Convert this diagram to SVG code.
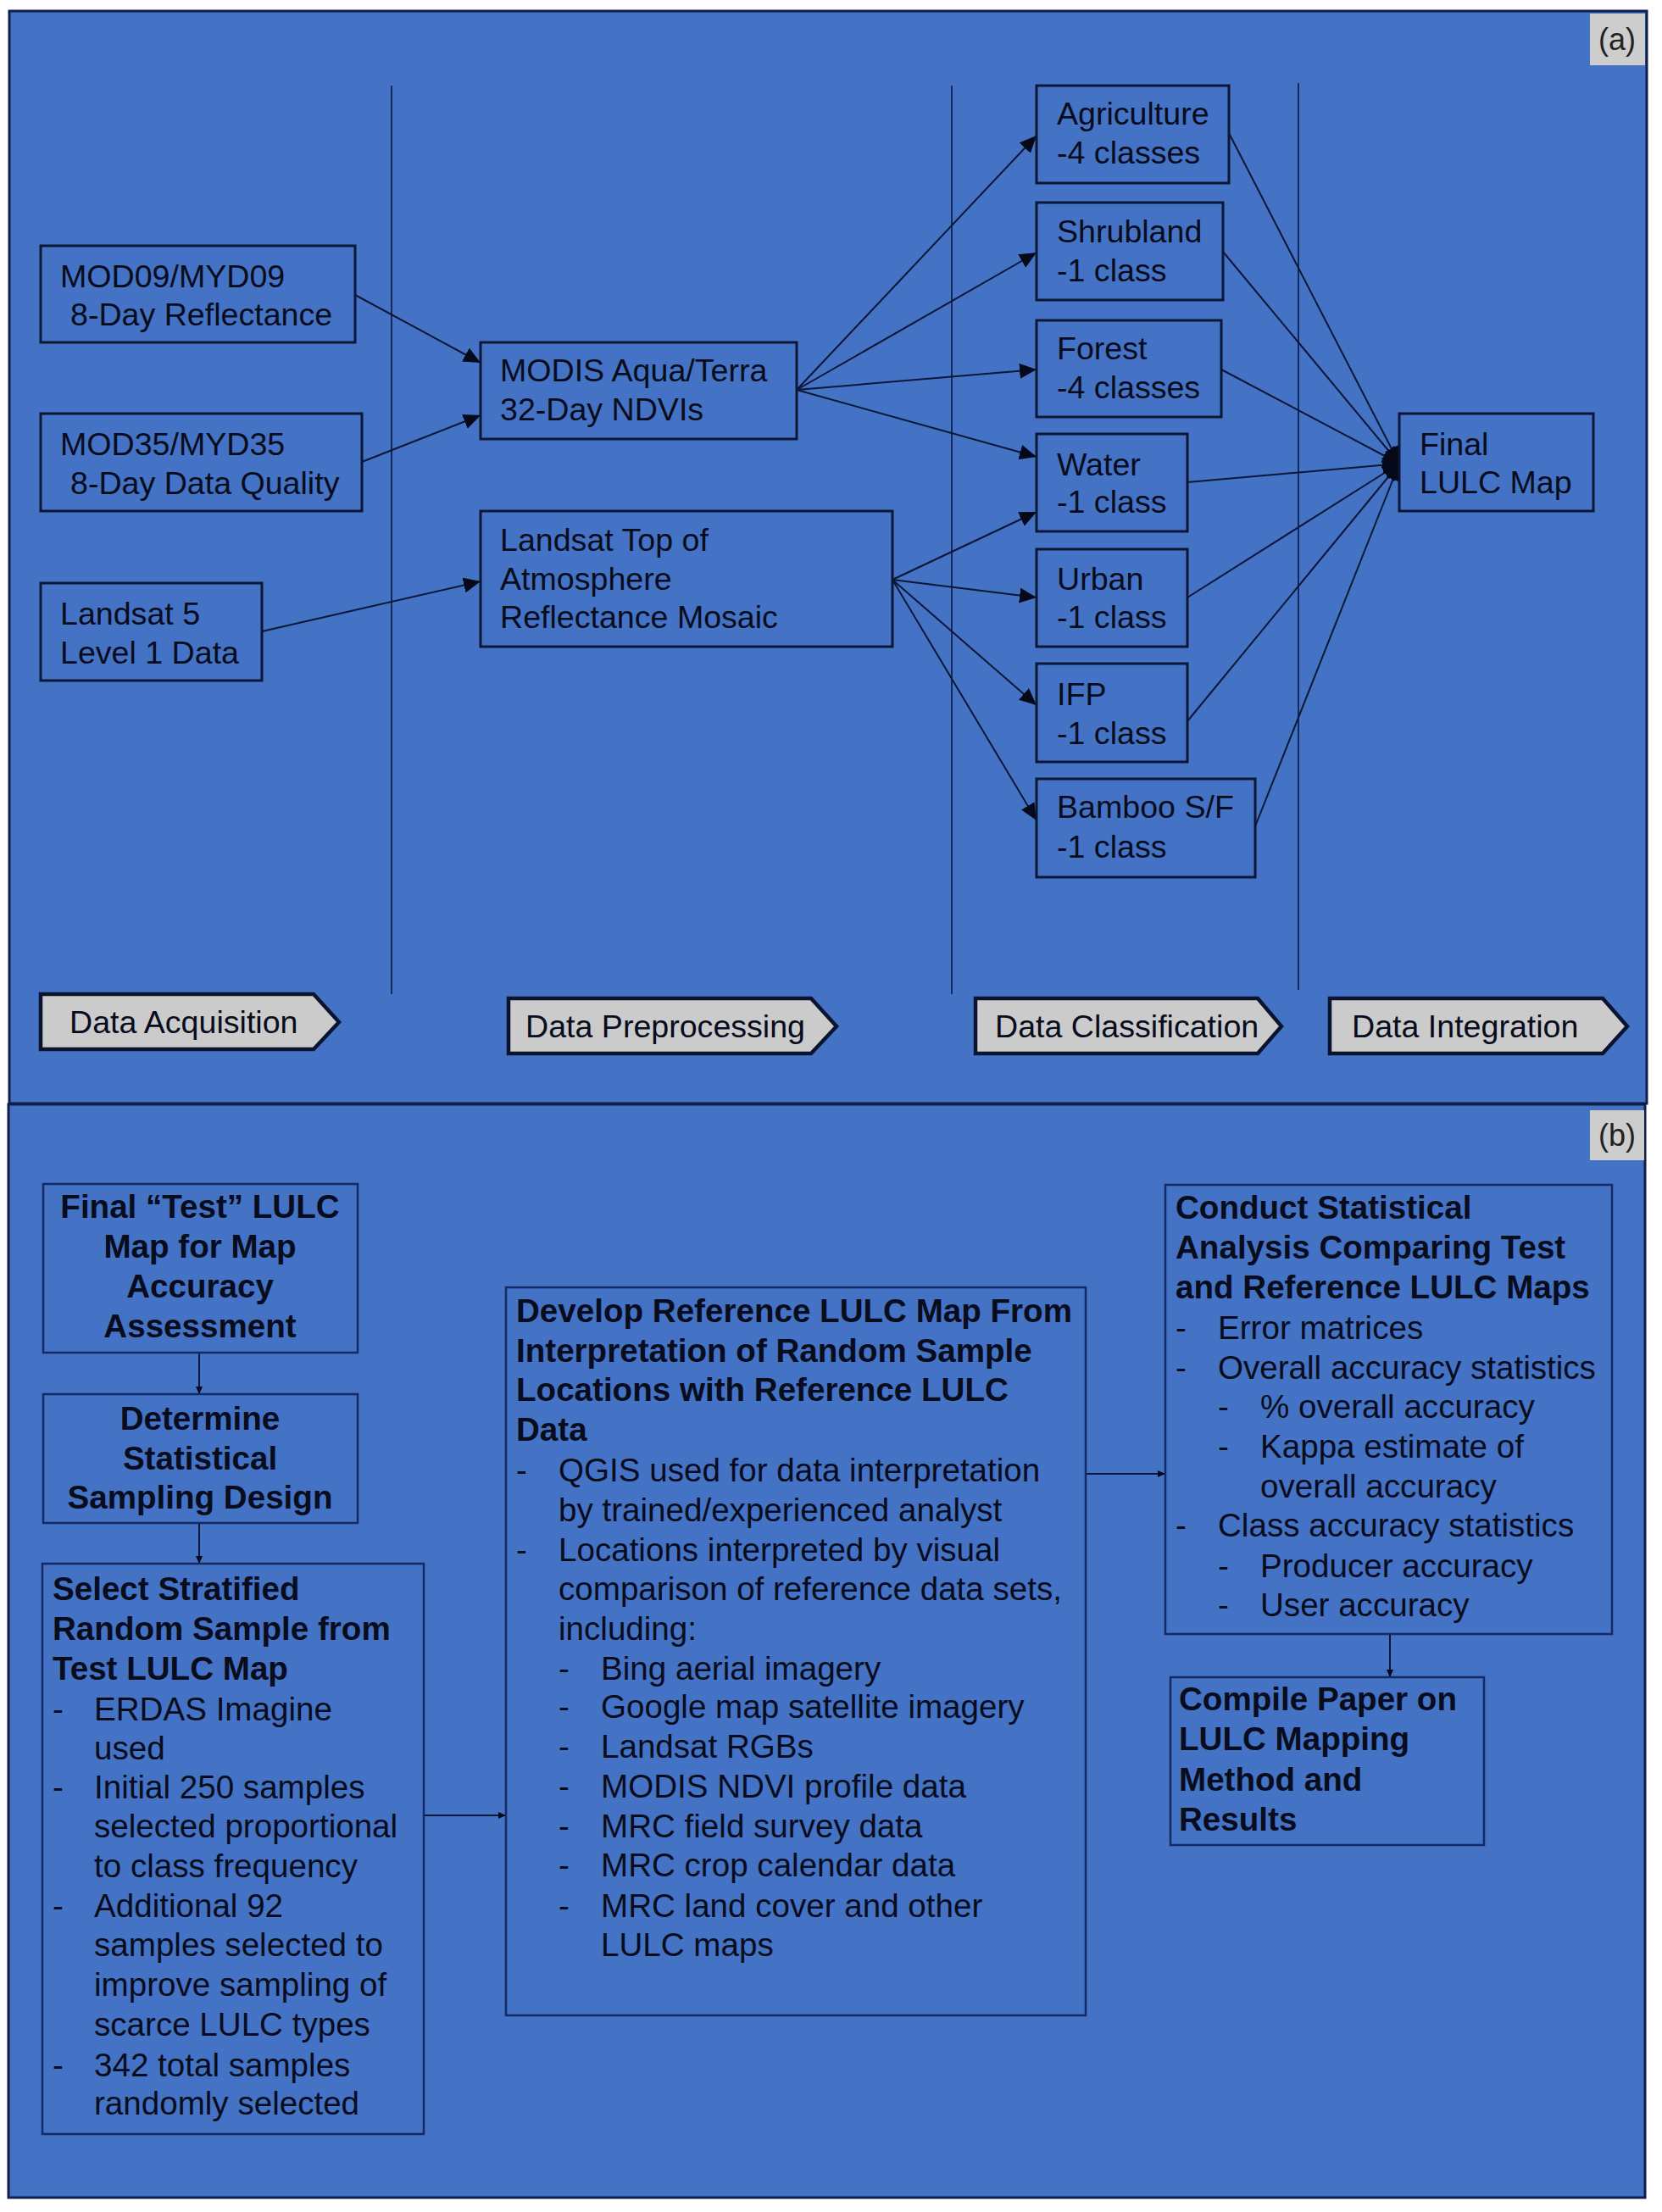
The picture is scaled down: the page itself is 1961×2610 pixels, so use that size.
<svg xmlns="http://www.w3.org/2000/svg" width="1961" height="2610" viewBox="0 0 1961 2610">
<style>
.panel{fill:#4472C4;stroke:#0f1f4a;stroke-width:3}
.boxa{fill:none;stroke:#0c1736;stroke-width:3}
.boxb{fill:none;stroke:#142a66;stroke-width:2.5}
.ta{font-family:"Liberation Sans",Arial,sans-serif;font-size:37.6px;fill:#080c1c}
.tb{font-family:"Liberation Sans",Arial,sans-serif;font-size:38.6px;fill:#080c1c}
.bold{font-weight:bold}
.mid{text-anchor:middle}
.div{stroke:#15285a;stroke-width:2;fill:none}
.conA{stroke:#0c1736;stroke-width:2;fill:none;marker-end:url(#arrA)}
.conB{stroke:#0c1736;stroke-width:2;fill:none;marker-end:url(#arrB)}
.chev{fill:#cbcbcb;stroke:#0a1430;stroke-width:4.5;stroke-linejoin:miter}
.lab{fill:#cdcdcd;stroke:none}
.labt{font-family:"Liberation Sans",Arial,sans-serif;font-size:36px;fill:#222;text-anchor:middle}
</style>
<defs>
<marker id="arrA" markerUnits="userSpaceOnUse" markerWidth="22" markerHeight="20" refX="20" refY="9" orient="auto">
<path d="M0,0 L20,9 L0,18 Z" fill="#05091a"/>
</marker>
<marker id="arrB" markerUnits="userSpaceOnUse" markerWidth="10" markerHeight="8" refX="9" refY="4" orient="auto">
<path d="M0,0 L9,4 L0,8 Z" fill="#05091a"/>
</marker>
</defs>
<rect x="0" y="0" width="1961" height="2610" fill="#ffffff"/>
<g id="panel-a">
<rect class="panel" x="11" y="13" width="1932" height="1289"/>
<rect class="lab" x="1876" y="16" width="65" height="61"/>
<text class="labt" x="1908" y="59">(a)</text>
</g>
<g id="panel-b">
<rect class="panel" x="10" y="1303" width="1931" height="1290"/>
<rect class="lab" x="1876" y="1310" width="64" height="59"/>
<text class="labt" x="1908" y="1352">(b)</text>
</g>
<g id="dividers">
<line class="div" x1="462" y1="101" x2="462" y2="1173"/>
<line class="div" x1="1123" y1="101" x2="1123" y2="1173"/>
<line class="div" x1="1532" y1="98" x2="1532" y2="1168"/>
</g>
<g id="connectors">
<line class="conA" x1="419" y1="348" x2="567" y2="428"/>
<line class="conA" x1="427" y1="545" x2="567" y2="490"/>
<line class="conA" x1="309" y1="745" x2="567" y2="686"/>
<line class="conA" x1="940" y1="460" x2="1223" y2="160"/>
<line class="conA" x1="940" y1="460" x2="1223" y2="298"/>
<line class="conA" x1="940" y1="460" x2="1223" y2="436"/>
<line class="conA" x1="940" y1="460" x2="1223" y2="539"/>
<line class="conA" x1="1053" y1="684" x2="1223" y2="604"/>
<line class="conA" x1="1053" y1="684" x2="1223" y2="705"/>
<line class="conA" x1="1053" y1="684" x2="1223" y2="832"/>
<line class="conA" x1="1053" y1="684" x2="1223" y2="968"/>
<line class="conA" x1="1450" y1="157" x2="1651" y2="547"/>
<line class="conA" x1="1443" y1="297" x2="1651" y2="547"/>
<line class="conA" x1="1441" y1="436" x2="1651" y2="547"/>
<line class="conA" x1="1401" y1="569" x2="1651" y2="547"/>
<line class="conA" x1="1401" y1="705" x2="1651" y2="547"/>
<line class="conA" x1="1401" y1="851" x2="1651" y2="547"/>
<line class="conA" x1="1481" y1="975" x2="1651" y2="547"/>
<line class="conB" x1="235" y1="1596" x2="235" y2="1645"/>
<line class="conB" x1="235" y1="1797" x2="235" y2="1845"/>
<line class="conB" x1="500" y1="2142" x2="597" y2="2142"/>
<line class="conB" x1="1281" y1="1739" x2="1375" y2="1739"/>
<line class="conB" x1="1640" y1="1928" x2="1640" y2="1979"/>
</g>
<g id="mod09">
<rect class="boxa" x="48" y="290" width="371" height="114"/>
<text class="ta" x="71" y="339">MOD09/MYD09</text>
<text class="ta" x="83" y="384">8-Day Reflectance</text>
</g>
<g id="mod35">
<rect class="boxa" x="48" y="488" width="379" height="115"/>
<text class="ta" x="71" y="537">MOD35/MYD35</text>
<text class="ta" x="83" y="583">8-Day Data Quality</text>
</g>
<g id="landsat5">
<rect class="boxa" x="48" y="688" width="261" height="115"/>
<text class="ta" x="71" y="737">Landsat 5</text>
<text class="ta" x="71" y="783">Level 1 Data</text>
</g>
<g id="modis">
<rect class="boxa" x="567" y="404" width="373" height="114"/>
<text class="ta" x="590" y="450">MODIS Aqua/Terra</text>
<text class="ta" x="590" y="496">32-Day NDVIs</text>
</g>
<g id="landsat-toa">
<rect class="boxa" x="567" y="603" width="486" height="160"/>
<text class="ta" x="590" y="650">Landsat Top of</text>
<text class="ta" x="590" y="696">Atmosphere</text>
<text class="ta" x="590" y="741">Reflectance Mosaic</text>
</g>
<g id="agriculture">
<rect class="boxa" x="1223" y="101" width="227" height="115"/>
<text class="ta" x="1247" y="147">Agriculture</text>
<text class="ta" x="1247" y="193">-4 classes</text>
</g>
<g id="shrubland">
<rect class="boxa" x="1223" y="239" width="220" height="115"/>
<text class="ta" x="1247" y="286">Shrubland</text>
<text class="ta" x="1247" y="332">-1 class</text>
</g>
<g id="forest">
<rect class="boxa" x="1223" y="378" width="218" height="114"/>
<text class="ta" x="1247" y="424">Forest</text>
<text class="ta" x="1247" y="470">-4 classes</text>
</g>
<g id="water">
<rect class="boxa" x="1223" y="512" width="178" height="115"/>
<text class="ta" x="1247" y="561">Water</text>
<text class="ta" x="1247" y="605">-1 class</text>
</g>
<g id="urban">
<rect class="boxa" x="1223" y="648" width="178" height="115"/>
<text class="ta" x="1247" y="696">Urban</text>
<text class="ta" x="1247" y="741">-1 class</text>
</g>
<g id="ifp">
<rect class="boxa" x="1223" y="783" width="178" height="116"/>
<text class="ta" x="1247" y="832">IFP</text>
<text class="ta" x="1247" y="878">-1 class</text>
</g>
<g id="bamboo">
<rect class="boxa" x="1223" y="919" width="258" height="116"/>
<text class="ta" x="1247" y="965">Bamboo S/F</text>
<text class="ta" x="1247" y="1012">-1 class</text>
</g>
<g id="final-lulc">
<rect class="boxa" x="1651" y="488" width="229" height="115"/>
<text class="ta" x="1675" y="537">Final</text>
<text class="ta" x="1675" y="582">LULC Map</text>
</g>
<g id="stage-acquisition">
<path class="chev" d="M48,1173 L370,1173 L400,1206 L370,1238 L48,1238 Z"/>
<text class="ta" x="82" y="1219">Data Acquisition</text>
</g>
<g id="stage-preprocessing">
<path class="chev" d="M600,1178 L957,1178 L987,1211 L957,1243 L600,1243 Z"/>
<text class="ta" x="620" y="1224">Data Preprocessing</text>
</g>
<g id="stage-classification">
<path class="chev" d="M1151,1178 L1484,1178 L1512,1211 L1484,1243 L1151,1243 Z"/>
<text class="ta" x="1174" y="1224">Data Classification</text>
</g>
<g id="stage-integration">
<path class="chev" d="M1569,1178 L1891,1178 L1920,1211 L1891,1243 L1569,1243 Z"/>
<text class="ta" x="1595" y="1224">Data Integration</text>
</g>
<g id="final-test">
<rect class="boxb" x="51" y="1397" width="371" height="199"/>
<text class="tb bold mid" x="236" y="1437">Final “Test” LULC</text>
<text class="tb bold mid" x="236" y="1484">Map for Map</text>
<text class="tb bold mid" x="236" y="1531">Accuracy</text>
<text class="tb bold mid" x="236" y="1578">Assessment</text>
</g>
<g id="determine">
<rect class="boxb" x="51" y="1645" width="371" height="152"/>
<text class="tb bold mid" x="236" y="1687">Determine</text>
<text class="tb bold mid" x="236" y="1734">Statistical</text>
<text class="tb bold mid" x="236" y="1780">Sampling Design</text>
</g>
<g id="select">
<rect class="boxb" x="50" y="1845" width="450" height="673"/>
<text class="tb bold" x="62" y="1888">Select Stratified</text>
<text class="tb bold" x="62" y="1935">Random Sample from</text>
<text class="tb bold" x="62" y="1982">Test LULC Map</text>
<text class="tb" x="62" y="2030">-</text><text class="tb" x="111" y="2030">ERDAS Imagine</text>
<text class="tb" x="111" y="2076">used</text>
<text class="tb" x="62" y="2122">-</text><text class="tb" x="111" y="2122">Initial 250 samples</text>
<text class="tb" x="111" y="2168">selected proportional</text>
<text class="tb" x="111" y="2215">to class frequency</text>
<text class="tb" x="62" y="2262">-</text><text class="tb" x="111" y="2262">Additional 92</text>
<text class="tb" x="111" y="2308">samples selected to</text>
<text class="tb" x="111" y="2355">improve sampling of</text>
<text class="tb" x="111" y="2402">scarce LULC types</text>
<text class="tb" x="62" y="2450">-</text><text class="tb" x="111" y="2450">342 total samples</text>
<text class="tb" x="111" y="2495">randomly selected</text>
</g>
<g id="develop">
<rect class="boxb" x="597" y="1519" width="684" height="859"/>
<text class="tb bold" x="609" y="1560">Develop Reference LULC Map From</text>
<text class="tb bold" x="609" y="1607">Interpretation of Random Sample</text>
<text class="tb bold" x="609" y="1653">Locations with Reference LULC</text>
<text class="tb bold" x="609" y="1700">Data</text>
<text class="tb" x="609" y="1748">-</text><text class="tb" x="659" y="1748">QGIS used for data interpretation</text>
<text class="tb" x="659" y="1795">by trained/experienced analyst</text>
<text class="tb" x="609" y="1842">-</text><text class="tb" x="659" y="1842">Locations interpreted by visual</text>
<text class="tb" x="659" y="1888">comparison of reference data sets,</text>
<text class="tb" x="659" y="1935">including:</text>
<text class="tb" x="659" y="1982">-</text><text class="tb" x="709" y="1982">Bing aerial imagery</text>
<text class="tb" x="659" y="2027">-</text><text class="tb" x="709" y="2027">Google map satellite imagery</text>
<text class="tb" x="659" y="2074">-</text><text class="tb" x="709" y="2074">Landsat RGBs</text>
<text class="tb" x="659" y="2121">-</text><text class="tb" x="709" y="2121">MODIS NDVI profile data</text>
<text class="tb" x="659" y="2168">-</text><text class="tb" x="709" y="2168">MRC field survey data</text>
<text class="tb" x="659" y="2214">-</text><text class="tb" x="709" y="2214">MRC crop calendar data</text>
<text class="tb" x="659" y="2262">-</text><text class="tb" x="709" y="2262">MRC land cover and other</text>
<text class="tb" x="709" y="2308">LULC maps</text>
</g>
<g id="conduct">
<rect class="boxb" x="1375" y="1398" width="527" height="530"/>
<text class="tb bold" x="1387" y="1438">Conduct Statistical</text>
<text class="tb bold" x="1387" y="1485">Analysis Comparing Test</text>
<text class="tb bold" x="1387" y="1532">and Reference LULC Maps</text>
<text class="tb" x="1387" y="1580">-</text><text class="tb" x="1437" y="1580">Error matrices</text>
<text class="tb" x="1387" y="1627">-</text><text class="tb" x="1437" y="1627">Overall accuracy statistics</text>
<text class="tb" x="1437" y="1673">-</text><text class="tb" x="1487" y="1673">% overall accuracy</text>
<text class="tb" x="1437" y="1720">-</text><text class="tb" x="1487" y="1720">Kappa estimate of</text>
<text class="tb" x="1487" y="1767">overall accuracy</text>
<text class="tb" x="1387" y="1813">-</text><text class="tb" x="1437" y="1813">Class accuracy statistics</text>
<text class="tb" x="1437" y="1861">-</text><text class="tb" x="1487" y="1861">Producer accuracy</text>
<text class="tb" x="1437" y="1907">-</text><text class="tb" x="1487" y="1907">User accuracy</text>
</g>
<g id="compile">
<rect class="boxb" x="1381" y="1979" width="370" height="198"/>
<text class="tb bold" x="1391" y="2018">Compile Paper on</text>
<text class="tb bold" x="1391" y="2065">LULC Mapping</text>
<text class="tb bold" x="1391" y="2113">Method and</text>
<text class="tb bold" x="1391" y="2160">Results</text>
</g>
</svg>
